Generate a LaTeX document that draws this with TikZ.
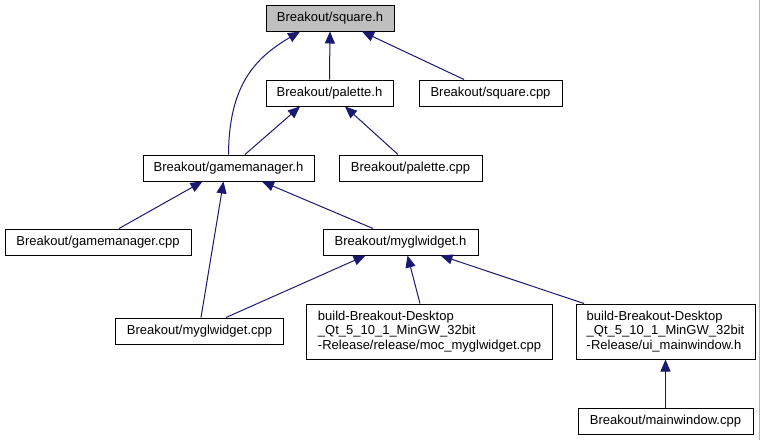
\documentclass[tikz,border=0pt]{standalone}
\usepackage{fontspec}
\setmainfont{Liberation Sans}
\usepackage{tikz}
\usetikzlibrary{arrows.meta, positioning}
\definecolor{navyEdge}{RGB}{25,25,112}
\definecolor{grisRaiz}{RGB}{191,191,191}
\tikzset{
  dg/file/.style={rectangle, draw=black, fill=white,
    minimum height=26pt, inner sep=0pt,
    font=\fontsize{13}{14.5}\selectfont, align=left, line width=1pt},
  dg/root/.style={dg/file, fill=grisRaiz},
  dg/tall/.style={dg/file, minimum height=55pt},
  dg/arr/.style={-{Triangle[length=12pt,width=10pt]}, line width=1pt,
    draw=navyEdge}
}

\begin{document}
\begin{tikzpicture}[x=1pt, y=-1pt]
  \useasboundingbox (0,0) rectangle (761,440);
  \fill[white] (0,0) rectangle (761,440);
  \draw[gray!60, line width=1pt] (759.5,0) -- (759.5,440);

  \node[dg/root, minimum width=128pt] (sq) at (330,18) {Breakout/square.h};
  \node[dg/file, minimum width=127pt] (pal) at (329.5,93) {Breakout/palette.h};
  \node[dg/file, minimum width=143pt, right=25pt of pal] (sqc) {Breakout/square.cpp};
  \node[dg/file, minimum width=171pt] (gm) at (228.5,168) {Breakout/gamemanager.h};
  \node[dg/file, minimum width=143pt, right=24pt of gm] (palc) {Breakout/palette.cpp};
  \node[dg/file, minimum width=186pt] (gmc) at (98,242) {Breakout/gamemanager.cpp};
  \node[dg/file, minimum width=155pt] (myh) at (400.5,242) {Breakout/myglwidget.h};
  \node[dg/file, minimum width=168.5pt] (mycpp) at (199.5,331) {Breakout/myglwidget.cpp};
  \node[dg/tall, minimum width=246.5pt] (moc) at (429.6,331.5)
        {build-Breakout-Desktop\\\_Qt\_5\_10\_1\_MinGW\_32bit\\-Release/release/moc\_myglwidget.cpp};
  \node[dg/tall, minimum width=179pt] (ui) at (665.5,331.5)
        {build-Breakout-Desktop\\\_Qt\_5\_10\_1\_MinGW\_32bit\\-Release/ui\_mainwindow.h};
  \node[dg/file, minimum width=175pt, below=48pt of ui] (mw) {Breakout/mainwindow.cpp};

  \draw[dg/arr] (gm.north) .. controls (229,85) and (255,58) .. ([xshift=-30pt]sq.south);
  \draw[dg/arr] (pal.north) -- (sq.south);
  \draw[dg/arr] ([xshift=-26.5pt]sqc.north) -- ([xshift=32pt]sq.south);
  \draw[dg/arr] ([xshift=16.5pt]gm.north) -- ([xshift=-29.5pt]pal.south);
  \draw[dg/arr] ([xshift=-12.5pt]palc.north) -- ([xshift=15.5pt]pal.south);
  \draw[dg/arr] ([xshift=21pt]gmc.north) -- ([xshift=-26pt]gm.south);
  \draw[dg/arr] ([xshift=1.5pt]mycpp.north) -- ([xshift=-5pt]gm.south);
  \draw[dg/arr] ([xshift=-27.5pt]myh.north) -- ([xshift=33.5pt]gm.south);
  \draw[dg/arr] ([xshift=26.5pt]mycpp.north) -- ([xshift=-35pt]myh.south);
  \draw[dg/arr] ([xshift=-9.6pt]moc.north) -- ([xshift=7pt]myh.south);
  \draw[dg/arr] ([xshift=-81.5pt]ui.north) -- ([xshift=40pt]myh.south);
  \draw[dg/arr] (mw.north) -- (ui.south);
\end{tikzpicture}
\end{document}
